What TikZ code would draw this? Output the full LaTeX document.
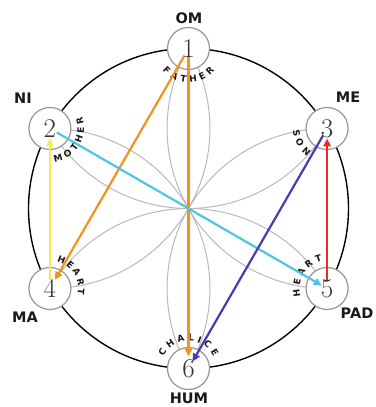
\documentclass[tikz,border=0pt]{standalone}
\usepackage{fontspec}
\newfontfamily\labfont{DejaVu Sans}
\usetikzlibrary{decorations.text,arrows.meta}
\definecolor{cOrange}{RGB}{243,146,30}
\definecolor{cYellow}{RGB}{246,234,80}
\definecolor{cCyan}{RGB}{78,198,224}
\definecolor{cRed}{RGB}{232,44,34}
\definecolor{cBlue}{RGB}{72,60,178}
\definecolor{cPetal}{RGB}{185,185,185}
\definecolor{cRing}{RGB}{150,150,150}
\definecolor{cText}{RGB}{25,25,25}
\newcommand{\arcfont}{\labfont\bfseries\fontsize{9}{9}\selectfont}
\tikzset{
  bigring/.style={draw=black, line width=1.4pt},
  petal/.style={draw=cPetal, line width=1pt},
  vert/.style={circle, draw=cRing, fill=white, line width=1.2pt, minimum size=42pt, inner sep=0pt},
  digit/.style={text=black!80, font=\fontsize{27}{27}\selectfont, inner sep=0pt},
  lab/.style={text=cText, font=\labfont\bfseries\fontsize{14.5}{14.5}\selectfont, inner sep=0pt},
  conn/.style={line width=2.2pt, -{Triangle[length=8pt,width=7.5pt]}, shorten <=8pt, shorten >=10pt},
  arctext/.style={decorate, decoration={text along path, text align={fit to path}, text color=cText, text={|\arcfont|#1}}}
}
\begin{document}
\begin{tikzpicture}[x=1pt,y=1pt]
\useasboundingbox (0,0) rectangle (375,407);
\fill[white] (0,0) rectangle (375,407);
\coordinate (O) at (188.5,198.5);
\draw[bigring] (O) circle[radius=160];
\foreach \t in {90,150,...,390}
  \draw[petal] (O) arc[start angle=\t-120, end angle=\t-60, radius=160]
                   arc[start angle=\t+60, end angle=\t+120, radius=160];
\node[vert] (n1) at ([shift={(90:160)}]O) {};
\node[vert] (n2) at ([shift={(150:160)}]O) {};
\node[vert] (n3) at ([shift={(30:160)}]O) {};
\node[vert] (n4) at ([shift={(210:160)}]O) {};
\node[vert] (n5) at ([shift={(330:160)}]O) {};
\node[vert] (n6) at ([shift={(270:160)}]O) {};
% curved words
\path[arctext=FATHER] ([shift={(220:34)}]n1.center) arc[start angle=220, end angle=320, radius=34];
\path[arctext=MOTHER] ([shift={(-82:34)}]n2.center) arc[start angle=-82, end angle=20, radius=34];
\path[arctext=SON] ([shift={(183:34)}]n3.center) arc[start angle=183, end angle=234, radius=34];
\path[arctext=HEART] ([shift={(76:28)}]n4.center) arc[start angle=76, end angle=-12, radius=28];
\path[arctext=HEART] ([shift={(196:27.5)}]n5.center) arc[start angle=196, end angle=100, radius=27.5];
\path[arctext=CHALICE] ([shift={(155:27.5)}]n6.center) arc[start angle=155, end angle=25, radius=27.5];
% connectors
\draw[conn, cOrange, shorten >=12pt] (n1.center) -- (n6.center);
\draw[conn, cOrange] (n1.center) -- (n4.center);
\draw[conn, cYellow] (n4.center) -- (n2.center);
\draw[conn, cCyan, shorten >=6pt] (n2.center) -- (n5.center);
\draw[conn, cRed] (n5.center) -- (n3.center);
\draw[conn, cBlue, shorten >=8pt] (n3.center) -- (n6.center);
% digits
\node[digit] (d1) at (n1) {1};
\node[digit] (d2) at (n2) {2};
\node[digit] (d3) at (n3) {3};
\node[digit] (d4) at (n4) {4};
\node[digit] (d5) at (n5) {5};
\node[digit] (d6) at (n6) {6};
% labels
\node[lab] (lOM) at (189,389) {OM};
\node[lab] (lNI) at (23,309) {NI};
\node[lab] (lME) at (348,310) {ME};
\node[lab] (lMA) at (25,90) {MA};
\node[lab] (lPAD) at (357,94) {PAD};
\node[lab] (lHUM) at (189,9) {HUM};
\end{tikzpicture}
\end{document}
